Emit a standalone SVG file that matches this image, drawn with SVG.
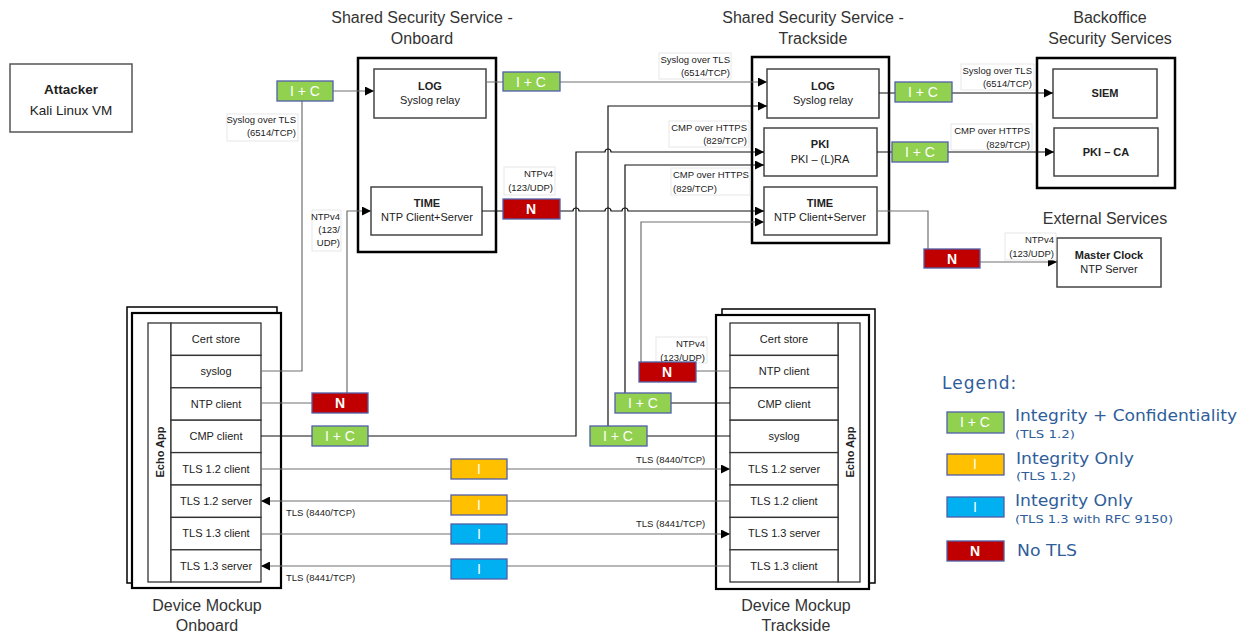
<svg xmlns="http://www.w3.org/2000/svg" width="1250" height="634" viewBox="0 0 1250 634">
<defs>
<marker id="arr" markerUnits="userSpaceOnUse" markerWidth="9" markerHeight="9" refX="9" refY="4.5" orient="auto">
<path d="M0,0 L9,4.5 L0,9 z" fill="#000"/>
</marker>
<style>
text{font-family:"Liberation Sans",Arial,sans-serif;fill:#222}
.title{font-size:16px;fill:#333;text-anchor:middle}
.nt{font-size:11px;text-anchor:middle}
.nb{font-size:11px;font-weight:bold;text-anchor:middle}
.box{fill:#fff;stroke:#444;stroke-width:1.5}
.outer{fill:#fff;stroke:#000;stroke-width:2.5}
.cell{fill:#fff;stroke:#333;stroke-width:1.3}
.lbl{font-size:9.5px;fill:#222}
.lbg{fill:#fff;stroke:#e2e2e2;stroke-width:0.8}
.c{fill:none;stroke:#111;stroke-width:1.2}
.g{fill:none;stroke:#707070;stroke-width:1.2}
.bt{font-size:14px;fill:#fff;text-anchor:middle}
.gr{fill:#92D050;stroke:#4F5FA8;stroke-width:1.3}
.rd{fill:#C00000;stroke:#4F5FA8;stroke-width:1.3}
.ye{fill:#FFC000;stroke:#4F5FA8;stroke-width:1.3}
.bl{fill:#00B0F0;stroke:#4F5FA8;stroke-width:1.3}
.lg{font-family:"DejaVu Sans",Verdana,sans-serif;fill:#2F5D9A}
</style>
</defs>
<rect width="1250" height="634" fill="#fff"/>

<!-- Titles -->
<text class="title" x="422" y="23">Shared Security Service -</text>
<text class="title" x="422" y="44">Onboard</text>
<text class="title" x="813" y="23">Shared Security Service -</text>
<text class="title" x="813" y="44">Trackside</text>
<text class="title" x="1110" y="23">Backoffice</text>
<text class="title" x="1110" y="44">Security Services</text>
<text class="title" x="1105" y="224">External Services</text>
<text class="title" x="207" y="611">Device Mockup</text>
<text class="title" x="207" y="631">Onboard</text>
<text class="title" x="796" y="611">Device Mockup</text>
<text class="title" x="796" y="631">Trackside</text>

<!-- Attacker -->
<g id="attacker">
<rect x="10" y="64" width="122" height="68" fill="#fff" stroke="#555" stroke-width="1.5"/>
<text x="71" y="94" font-size="13.5" font-weight="bold" text-anchor="middle">Attacker</text>
<text x="71" y="115" font-size="13.5" text-anchor="middle" fill="#333">Kali Linux VM</text>
</g>

<!-- Shared Security Service Onboard -->
<g id="sss-onboard">
<rect class="outer" x="358" y="58" width="138" height="194"/>
<rect class="box" x="374" y="69" width="112" height="49"/>
<text class="nb" x="430" y="90">LOG</text>
<text class="nt" x="430" y="104">Syslog relay</text>
<rect class="box" x="371" y="187" width="111" height="48"/>
<text class="nb" x="427" y="207">TIME</text>
<text class="nt" x="427" y="221">NTP Client+Server</text>
</g>

<!-- Shared Security Service Trackside -->
<g id="sss-trackside">
<rect class="outer" x="752" y="57" width="137" height="186"/>
<rect class="box" x="767" y="69" width="112" height="49"/>
<text class="nb" x="823" y="90">LOG</text>
<text class="nt" x="823" y="104">Syslog relay</text>
<rect class="box" x="764" y="128" width="113" height="48"/>
<text class="nb" x="820" y="148">PKI</text>
<text class="nt" x="820" y="163">PKI – (L)RA</text>
<rect class="box" x="764" y="187" width="113" height="48"/>
<text class="nb" x="820" y="207">TIME</text>
<text class="nt" x="820" y="221">NTP Client+Server</text>
</g>

<!-- Backoffice -->
<g id="backoffice">
<rect class="outer" x="1037" y="58" width="138" height="130"/>
<rect class="box" x="1053" y="69" width="104" height="49"/>
<text class="nb" x="1105" y="97">SIEM</text>
<rect class="box" x="1054" y="128" width="104" height="48"/>
<text class="nb" x="1106" y="156">PKI – CA</text>
</g>

<!-- Master Clock -->
<g id="master-clock">
<rect class="box" x="1057" y="238" width="104" height="49"/>
<text class="nb" x="1109" y="259">Master Clock</text>
<text class="nt" x="1109" y="273">NTP Server</text>
</g>

<!-- Device Mockup Onboard -->
<g id="device-onboard">
<rect x="127" y="307" width="150" height="276" fill="#fff" stroke="#000" stroke-width="1.5"/>
<rect x="132" y="313" width="149" height="275" fill="#fff" stroke="#000" stroke-width="2.2"/>
<rect class="cell" x="148" y="323" width="23" height="259"/>
<text x="164" y="452" font-size="11" font-weight="bold" text-anchor="middle" transform="rotate(-90 164 452)">Echo App</text>
<rect class="cell" x="171" y="323" width="90" height="32.4"/>
<rect class="cell" x="171" y="355.4" width="90" height="32.4"/>
<rect class="cell" x="171" y="387.8" width="90" height="32.4"/>
<rect class="cell" x="171" y="420.2" width="90" height="32.4"/>
<rect class="cell" x="171" y="452.6" width="90" height="32.4"/>
<rect class="cell" x="171" y="485" width="90" height="32.4"/>
<rect class="cell" x="171" y="517.4" width="90" height="32.4"/>
<rect class="cell" x="171" y="549.8" width="90" height="32.2"/>
<text class="nt" x="216" y="343">Cert store</text>
<text class="nt" x="216" y="375">syslog</text>
<text class="nt" x="216" y="408">NTP client</text>
<text class="nt" x="216" y="440">CMP client</text>
<text class="nt" x="216" y="473">TLS 1.2 client</text>
<text class="nt" x="216" y="505">TLS 1.2 server</text>
<text class="nt" x="216" y="537">TLS 1.3 client</text>
<text class="nt" x="216" y="570">TLS 1.3 server</text>
</g>

<!-- Device Mockup Trackside -->
<g id="device-trackside">
<rect x="722" y="309" width="153" height="274" fill="#fff" stroke="#000" stroke-width="1.5"/>
<rect x="716" y="315" width="153" height="274" fill="#fff" stroke="#000" stroke-width="2.2"/>
<rect class="cell" x="838" y="323" width="22" height="259"/>
<text x="854" y="452" font-size="11" font-weight="bold" text-anchor="middle" transform="rotate(-90 854 452)">Echo App</text>
<rect class="cell" x="730" y="323" width="108" height="32.4"/>
<rect class="cell" x="730" y="355.4" width="108" height="32.4"/>
<rect class="cell" x="730" y="387.8" width="108" height="32.4"/>
<rect class="cell" x="730" y="420.2" width="108" height="32.4"/>
<rect class="cell" x="730" y="452.6" width="108" height="32.4"/>
<rect class="cell" x="730" y="485" width="108" height="32.4"/>
<rect class="cell" x="730" y="517.4" width="108" height="32.4"/>
<rect class="cell" x="730" y="549.8" width="108" height="32.2"/>
<text class="nt" x="784" y="343">Cert store</text>
<text class="nt" x="784" y="375">NTP client</text>
<text class="nt" x="784" y="408">CMP client</text>
<text class="nt" x="784" y="440">syslog</text>
<text class="nt" x="784" y="473">TLS 1.2 server</text>
<text class="nt" x="784" y="505">TLS 1.2 client</text>
<text class="nt" x="784" y="537">TLS 1.3 server</text>
<text class="nt" x="784" y="570">TLS 1.3 client</text>
</g>

<!-- Connectors -->
<g id="connectors">
<path class="g" d="M261,371 H302 V91 H374" marker-end="url(#arr)"/>
<path class="g" d="M261,403 H347 V211 H371" marker-end="url(#arr)"/>
<path class="c" d="M261,436 H576 V152 H605 a3,3 0 0 1 6,0 H764" marker-end="url(#arr)"/>
<path class="g" d="M486,82 H767" marker-end="url(#arr)"/>
<path class="c" d="M482,211 H573 a3,3 0 0 1 6,0 H605 a3,3 0 0 1 6,0 H622 a3,3 0 0 1 6,0 H764" marker-end="url(#arr)"/>
<path class="c" d="M730,436 H608 V106 H767" marker-end="url(#arr)"/>
<path class="c" d="M730,403 H625 V165 H764" marker-end="url(#arr)"/>
<path class="g" d="M730,371 H641 V222 H764" marker-end="url(#arr)"/>
<path class="c" d="M879,93 H1053" marker-end="url(#arr)"/>
<path class="c" d="M877,152 H1054" marker-end="url(#arr)"/>
<path class="g" d="M877,211 H928 V262 H1057" marker-end="url(#arr)"/>
<path class="g" d="M261,469 H730" marker-end="url(#arr)"/>
<path class="g" d="M730,501 H261" marker-end="url(#arr)"/>
<path class="g" d="M261,534 H730" marker-end="url(#arr)"/>
<path class="g" d="M730,566 H261" marker-end="url(#arr)"/>
</g>

<!-- Connector labels -->
<g id="labels">
<rect class="lbg" x="227" y="114" width="71" height="27"/>
<text class="lbl" x="296" y="123" text-anchor="end">Syslog over TLS</text>
<text class="lbl" x="296" y="136" text-anchor="end">(6514/TCP)</text>
<rect class="lbg" x="312" y="210" width="29" height="41"/>
<text class="lbl" x="340" y="220" text-anchor="end">NTPv4</text>
<text class="lbl" x="340" y="233" text-anchor="end">(123/</text>
<text class="lbl" x="340" y="246" text-anchor="end">UDP)</text>
<rect class="lbg" x="504" y="167" width="51" height="28"/>
<text class="lbl" x="553" y="177" text-anchor="end">NTPv4</text>
<text class="lbl" x="553" y="191" text-anchor="end">(123/UDP)</text>
<rect class="lbg" x="659" y="53" width="72" height="26"/>
<text class="lbl" x="730" y="63" text-anchor="end">Syslog over TLS</text>
<text class="lbl" x="730" y="76" text-anchor="end">(6514/TCP)</text>
<rect class="lbg" x="669" y="121" width="80" height="26"/>
<text class="lbl" x="747" y="131" text-anchor="end">CMP over HTTPS</text>
<text class="lbl" x="747" y="144" text-anchor="end">(829/TCP)</text>
<rect class="lbg" x="671" y="168" width="79" height="27"/>
<text class="lbl" x="673" y="178">CMP over HTTPS</text>
<text class="lbl" x="673" y="192">(829/TCP)</text>
<rect class="lbg" x="961" y="64" width="73" height="26"/>
<text class="lbl" x="1032" y="74" text-anchor="end">Syslog over TLS</text>
<text class="lbl" x="1032" y="87" text-anchor="end">(6514/TCP)</text>
<rect class="lbg" x="951" y="124" width="81" height="26"/>
<text class="lbl" x="1030" y="134" text-anchor="end">CMP over HTTPS</text>
<text class="lbl" x="1030" y="148" text-anchor="end">(829/TCP)</text>
<rect class="lbg" x="1005" y="233" width="51" height="27"/>
<text class="lbl" x="1054" y="243" text-anchor="end">NTPv4</text>
<text class="lbl" x="1054" y="257" text-anchor="end">(123/UDP)</text>
<rect class="lbg" x="656" y="337" width="51" height="26"/>
<text class="lbl" x="705" y="347" text-anchor="end">NTPv4</text>
<text class="lbl" x="705" y="361" text-anchor="end">(123/UDP)</text>
<text class="lbl" x="636" y="463">TLS (8440/TCP)</text>
<text class="lbl" x="286" y="516">TLS (8440/TCP)</text>
<text class="lbl" x="636" y="527">TLS (8441/TCP)</text>
<text class="lbl" x="286" y="581">TLS (8441/TCP)</text>
</g>

<!-- Badges -->
<g id="badges">
<rect class="gr" x="277" y="81" width="56" height="20"/><text class="bt" x="305" y="96">I + C</text>
<rect class="rd" x="312" y="393" width="56" height="20"/><text class="bt" x="340" y="408" font-weight="bold">N</text>
<rect class="gr" x="312" y="426" width="56" height="20"/><text class="bt" x="340" y="441">I + C</text>
<rect class="gr" x="503" y="72" width="57" height="19"/><text class="bt" x="531" y="87">I + C</text>
<rect class="rd" x="503" y="199" width="57" height="20"/><text class="bt" x="531" y="214" font-weight="bold">N</text>
<rect class="gr" x="590" y="426" width="57" height="20"/><text class="bt" x="618" y="441">I + C</text>
<rect class="gr" x="615" y="393" width="56" height="20"/><text class="bt" x="643" y="408">I + C</text>
<rect class="rd" x="639" y="362" width="57" height="20"/><text class="bt" x="667" y="377" font-weight="bold">N</text>
<rect class="gr" x="895" y="82" width="57" height="20"/><text class="bt" x="923" y="97">I + C</text>
<rect class="gr" x="892" y="142" width="56" height="20"/><text class="bt" x="920" y="157">I + C</text>
<rect class="rd" x="924" y="249" width="56" height="19"/><text class="bt" x="952" y="264" font-weight="bold">N</text>
<rect class="ye" x="451" y="459" width="56" height="20"/><text class="bt" x="479" y="474">I</text>
<rect class="ye" x="451" y="495" width="56" height="20"/><text class="bt" x="479" y="510">I</text>
<rect class="bl" x="451" y="524" width="56" height="20"/><text class="bt" x="479" y="539">I</text>
<rect class="bl" x="451" y="559" width="56" height="20"/><text class="bt" x="479" y="574">I</text>
</g>

<!-- Legend -->
<g id="legend">
<text class="lg" x="942" y="389" font-size="17" letter-spacing="1">Legend:</text>
<rect class="gr" x="947" y="412" width="57" height="21"/><text class="bt" x="975" y="427">I + C</text>
<text class="lg" x="1015" y="421" font-size="16" textLength="222" lengthAdjust="spacingAndGlyphs">Integrity + Confidentiality</text>
<text class="lg" x="1015" y="438" font-size="11" textLength="60" lengthAdjust="spacingAndGlyphs">(TLS 1.2)</text>
<rect class="ye" x="947" y="454" width="57" height="21"/><text class="bt" x="975" y="469">I</text>
<text class="lg" x="1016" y="464" font-size="16" textLength="118" lengthAdjust="spacingAndGlyphs">Integrity Only</text>
<text class="lg" x="1016" y="480" font-size="11" textLength="60" lengthAdjust="spacingAndGlyphs">(TLS 1.2)</text>
<rect class="bl" x="947" y="497" width="57" height="20"/><text class="bt" x="975" y="512">I</text>
<text class="lg" x="1015" y="506" font-size="16" textLength="118" lengthAdjust="spacingAndGlyphs">Integrity Only</text>
<text class="lg" x="1015" y="523" font-size="11" textLength="158" lengthAdjust="spacingAndGlyphs">(TLS 1.3 with RFC 9150)</text>
<rect class="rd" x="947" y="541" width="57" height="20"/><text class="bt" x="975" y="556" font-weight="bold">N</text>
<text class="lg" x="1017" y="556" font-size="16" textLength="60" lengthAdjust="spacingAndGlyphs">No TLS</text>
</g>
</svg>
